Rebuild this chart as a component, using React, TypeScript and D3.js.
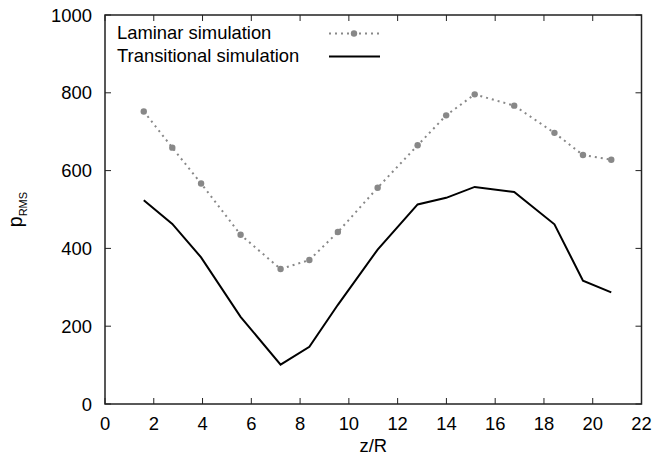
import React from "react";
import * as d3 from "d3";

const zR = [1.59, 2.76, 3.94, 5.56, 7.2, 8.38, 9.55, 11.18, 12.82, 13.99, 15.16, 16.78, 18.43, 19.6, 20.76];
const laminar = [752, 659, 567, 435, 347, 370, 442, 556, 665, 742, 796, 767, 697, 640, 628];
const transitional = [524, 463, 377, 224, 101, 147, 255, 397, 513, 530, 558, 545, 462, 317, 287];
const xTicks = [0, 2, 4, 6, 8, 10, 12, 14, 16, 18, 20, 22];
const yTicks = [0, 200, 400, 600, 800, 1000];
const seriesNames = ["Laminar simulation", "Transitional simulation"];

const W = 656, H = 460;
const L = 105, R = 641.5, T = 15, B = 404;
const FONT = "'Liberation Sans', Arial, Helvetica, sans-serif";
const FS = 18.4;

export default function App() {
  const x = d3.scaleLinear().domain([0, 22]).range([L, R]);
  const y = d3.scaleLinear().domain([0, 1000]).range([B, T]);
  const lamPts: [number, number][] = zR.map((z, i) => [x(z), y(laminar[i])]);
  const trPts: [number, number][] = zR.map((z, i) => [x(z), y(transitional[i])]);
  const line = d3.line();
  const axisColor = "#222";
  const gray = "#888";
  const tickLen = 6;
  return (
    <svg width={W} height={H} style={{ position: "absolute", left: 0, top: 0, background: "#fff" }} fontFamily={FONT}>
      <rect x={0} y={0} width={W} height={H} fill="#fff" />
      {xTicks.map((t) => (
        <g key={"x" + t}>
          <line x1={x(t)} x2={x(t)} y1={B} y2={B - tickLen} stroke={axisColor} strokeWidth={1} />
          <line x1={x(t)} x2={x(t)} y1={T} y2={T + tickLen} stroke={axisColor} strokeWidth={1} />
          <text x={x(t)} y={430} fontSize={FS} textAnchor="middle" fill="#000">{t}</text>
        </g>
      ))}
      {yTicks.map((t) => (
        <g key={"y" + t}>
          <line x1={L} x2={L + tickLen} y1={y(t)} y2={y(t)} stroke={axisColor} strokeWidth={1} />
          <line x1={R} x2={R - tickLen} y1={y(t)} y2={y(t)} stroke={axisColor} strokeWidth={1} />
          <text x={92} y={y(t) + 6.5} fontSize={FS} textAnchor="end" fill="#000">{t}</text>
        </g>
      ))}
      <path d={line(lamPts) || ""} fill="none" stroke={gray} strokeWidth={2} strokeDasharray="2 4" />
      {lamPts.map((p, i) => (
        <circle key={"m" + i} cx={p[0]} cy={p[1]} r={3.2} fill={gray} />
      ))}
      <path d={line(trPts) || ""} fill="none" stroke="#000" strokeWidth={2} />
      <rect x={L} y={T} width={R - L} height={B - T} fill="none" stroke={axisColor} strokeWidth={1.5} />
      <text x={117} y={39} fontSize={FS} fill="#000">{seriesNames[0]}</text>
      <line x1={329} x2={380} y1={33.5} y2={33.5} stroke={gray} strokeWidth={2} strokeDasharray="2 4" />
      <circle cx={354} cy={33.5} r={3.2} fill={gray} />
      <text x={117} y={62} fontSize={FS} fill="#000">{seriesNames[1]}</text>
      <line x1={329} x2={380} y1={56.5} y2={56.5} stroke="#000" strokeWidth={2} />
      <text x={(L + R) / 2} y={452} fontSize={FS} textAnchor="middle" fill="#000">z/R</text>
      <text transform={`translate(22,${(T + B) / 2}) rotate(-90)`} fontSize={FS + 1} textAnchor="middle" fill="#000">
        p<tspan fontSize={11} dy={5}>RMS</tspan>
      </text>
    </svg>
  );
}
